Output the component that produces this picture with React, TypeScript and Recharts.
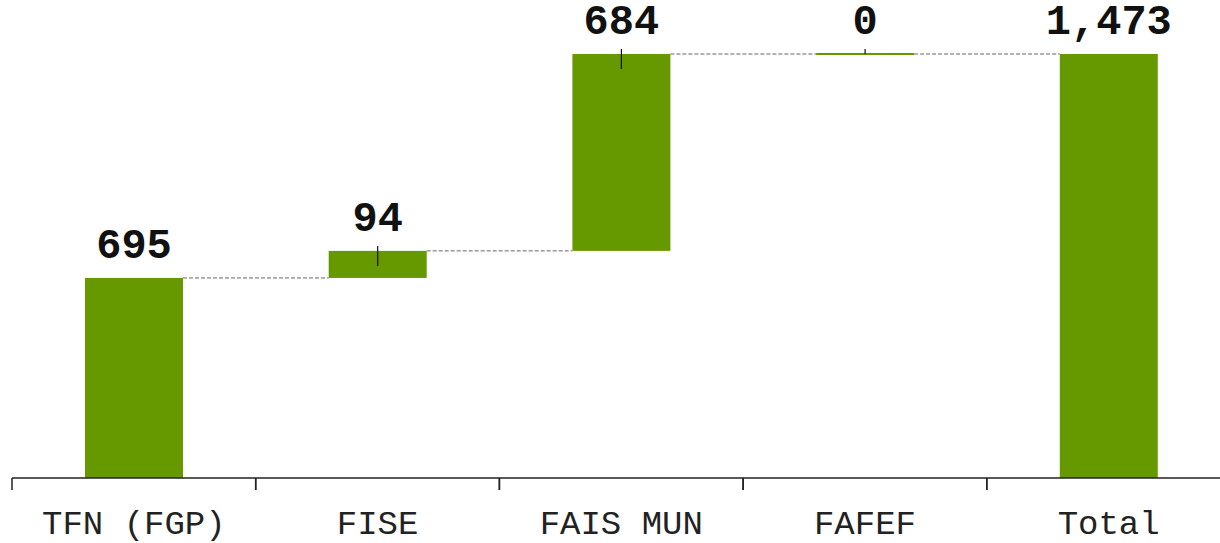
import { Bar, BarChart, XAxis, YAxis } from "recharts";

const categories = ["TFN (FGP)", "FISE", "FAIS MUN", "FAFEF", "Total"];
const amounts = [695, 94, 684, 0, 1473];
const totalFlags = [false, false, false, false, true];

const GREEN = "#669900";
const FONT = "'Liberation Mono', 'Courier New', monospace";

const CHART_W = 1240;
const CHART_H = 543;
const MARGIN = { top: 54, right: 9.5, left: 12, bottom: 0 };
const AXIS_H = 65;
const BAND = (CHART_W - MARGIN.left - MARGIN.right) / categories.length;
const AXIS_Y = CHART_H - MARGIN.bottom - AXIS_H;

let running = 0;
const data = categories.map((name, i) => {
  const base = totalFlags[i] ? 0 : running;
  if (!totalFlags[i]) running += amounts[i];
  return { name, base, delta: amounts[i], index: i };
});

function StepShape(props: any) {
  const { x, y, width, height, index } = props;
  const h = Math.max(height || 0, 2);
  const top = height > 0 ? y : y - 1;
  const cx = x + width / 2;
  const isLast = index === categories.length - 1;
  const marked = index > 0 && !isLast;
  return (
    <g>
      {!isLast && (
        <line
          x1={x + width}
          x2={x + BAND}
          y1={y}
          y2={y}
          stroke="#666"
          strokeWidth={1}
          strokeDasharray="4 2"
        />
      )}
      <rect x={x} y={top} width={width} height={h} fill={GREEN} />
      {marked && (
        <line
          x1={cx}
          x2={cx}
          y1={y - 5}
          y2={y + Math.min(15, Math.max(height || 0, 0))}
          stroke="#111"
          strokeWidth={1.2}
        />
      )}
      <text
        x={cx}
        y={y - 20}
        textAnchor="middle"
        fontFamily={FONT}
        fontWeight="bold"
        fontSize={42}
        fill="#111"
      >
        {amounts[index].toLocaleString("en-US")}
      </text>
    </g>
  );
}

function CategoryTick(props: any) {
  const { x, payload } = props;
  return (
    <g>
      <line x1={x - BAND / 2} x2={x - BAND / 2} y1={AXIS_Y} y2={AXIS_Y + 12} stroke="#222" strokeWidth={1.5} />
      <line x1={x + BAND / 2} x2={x + BAND / 2} y1={AXIS_Y} y2={AXIS_Y + 12} stroke="#222" strokeWidth={1.5} />
      <text x={x} y={AXIS_Y + 56} textAnchor="middle" fontFamily={FONT} fontSize={34} fill="#222">
        {payload.value}
      </text>
    </g>
  );
}

export default function App() {
  return (
    <div style={{ width: 1220, height: 543, overflow: "hidden", background: "#fff" }}>
      <style>{`body{margin:0}`}</style>
      <BarChart width={CHART_W} height={CHART_H} data={data} margin={MARGIN} barSize={98}>
        <XAxis
          dataKey="name"
          height={AXIS_H}
          interval={0}
          tickLine={false}
          axisLine={{ stroke: "#222", strokeWidth: 1.5 }}
          tick={<CategoryTick />}
        />
        <YAxis hide domain={[0, "dataMax"]} />
        <Bar dataKey="base" stackId="w" fill="transparent" isAnimationActive={false} />
        <Bar dataKey="delta" stackId="w" shape={<StepShape />} isAnimationActive={false} />
      </BarChart>
    </div>
  );
}
